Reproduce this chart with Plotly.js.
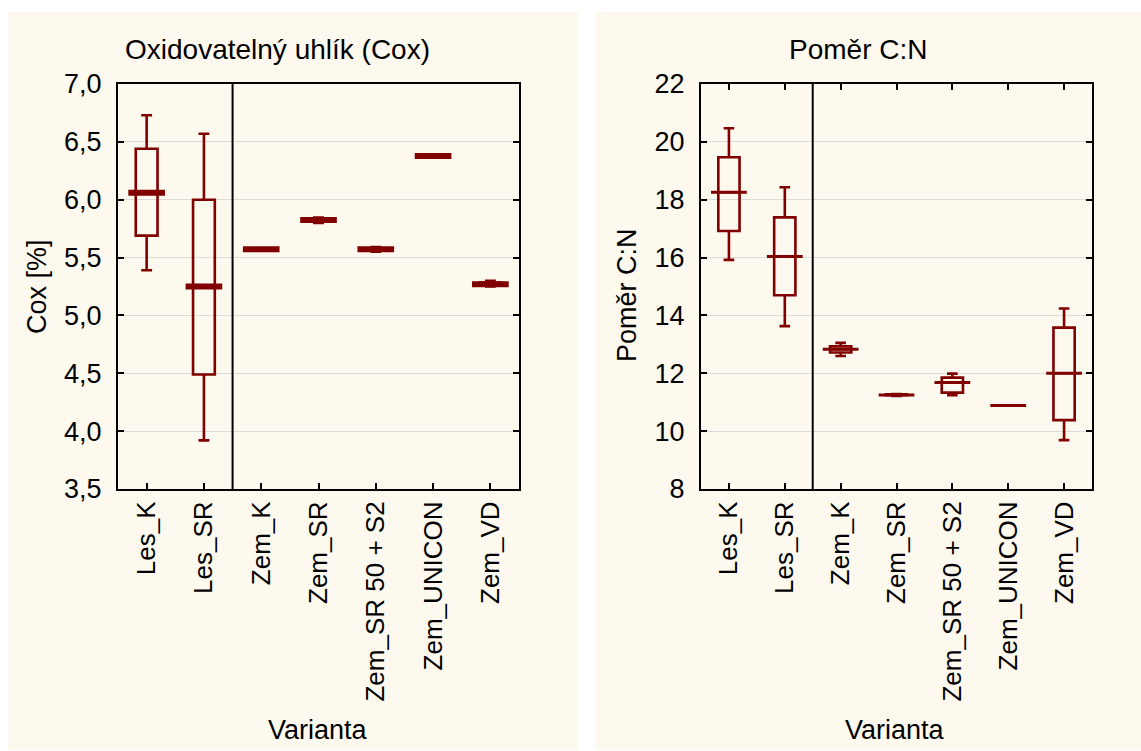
<!DOCTYPE html>
<html>
<head>
<meta charset="utf-8">
<script src="https://cdn.plot.ly/plotly-3.0.1.min.js"></script>
<style>html,body{margin:0;padding:0;background:#fff;}#chart{width:1141px;height:751px;}</style>
</head>
<body>
<div id="chart"></div>
<script>
// ---- data ----
var categories = ["Les_K", "Les_SR", "Zem_K", "Zem_SR", "Zem_SR 50 + S2", "Zem_UNICON", "Zem_VD"];

// Oxidovatelný uhlík (Cox) [%]
var coxLower  = [5.39, 3.92, 5.565, 5.80, 5.55, 6.378, 5.25];
var coxQ1     = [5.69, 4.49, 5.568, 5.815, 5.56, 6.378, 5.26];
var coxMedian = [6.06, 5.25, 5.571, 5.825, 5.571, 6.378, 5.27];
var coxQ3     = [6.44, 6.00, 5.574, 5.835, 5.58, 6.378, 5.285];
var coxUpper  = [6.73, 6.57, 5.578, 5.845, 5.59, 6.378, 5.30];

// Poměr C:N
var cnLower  = [15.92, 13.63, 12.60, 11.22, 11.24, 10.89, 9.69];
var cnQ1     = [16.92, 14.70, 12.72, 11.24, 11.33, 10.89, 10.38];
var cnMedian = [18.26, 16.04, 12.83, 11.25, 11.68, 10.89, 12.00];
var cnQ3     = [19.47, 17.39, 12.93, 11.27, 11.85, 10.89, 13.58];
var cnUpper  = [20.47, 18.43, 13.05, 11.28, 11.99, 10.89, 14.24];

var yTicksCox = [3.5, 4.0, 4.5, 5.0, 5.5, 6.0, 6.5, 7.0];
var yTicksCN  = [8, 10, 12, 14, 16, 18, 20, 22];

// ---- style ----
var RED = "#800000";
var FONT = "Liberation Sans, Arial, sans-serif";
var FS = 27;
var W = 1141, H = 751;
function px(x){ return x / W; }
function py(y){ return 1 - y / H; }

function boxTrace(xa, ya, q1, med, q3, lo, hi, lw){
  return {
    type: "box", xaxis: xa, yaxis: ya, x: categories,
    q1: q1, median: med, q3: q3, lowerfence: lo, upperfence: hi,
    boxpoints: false, width: 0.38, whiskerwidth: 0.5,
    line: {color: RED, width: lw}, fillcolor: "rgba(255,255,255,0)",
    hoverinfo: "skip", showlegend: false
  };
}
function medianTrace(xa, ya, med, lw){
  return {
    type: "box", xaxis: xa, yaxis: ya, x: categories,
    q1: med, median: med, q3: med, lowerfence: med, upperfence: med,
    boxpoints: false, width: 0.64, whiskerwidth: 0,
    line: {color: RED, width: lw}, fillcolor: "rgba(255,255,255,0)",
    hoverinfo: "skip", showlegend: false
  };
}

var traces = [
  boxTrace("x", "y", coxQ1, coxMedian, coxQ3, coxLower, coxUpper, 2.6),
  medianTrace("x", "y", coxMedian, 6),
  boxTrace("x2", "y2", cnQ1, cnMedian, cnQ3, cnLower, cnUpper, 2.6),
  medianTrace("x2", "y2", cnMedian, 3)
];

var tickFont = {family: FONT, size: FS, color: "#000"};
var xTickFont = {family: FONT, size: 26, color: "#000"};

function xAxis(domain, anchor, mirrorTicks){
  return {
    domain: domain, anchor: anchor, type: "category",
    range: [-0.5, 6.5], categoryorder: "array", categoryarray: categories,
    showline: true, linecolor: "#000", linewidth: 2, mirror: mirrorTicks ? "allticks" : true,
    ticks: "inside", ticklen: 6, tickwidth: 2, tickcolor: "#000",
    tickangle: -90, tickfont: xTickFont, showgrid: false, zeroline: false,
    fixedrange: true
  };
}
function yAxis(anchor, range, vals, fmt){
  return {
    anchor: anchor, domain: [py(489), py(84)], range: range,
    tickvals: vals, tickformat: fmt,
    showline: true, linecolor: "#000", linewidth: 2, mirror: "allticks",
    ticks: "inside", ticklen: 6, tickwidth: 2, tickcolor: "#000",
    tickfont: tickFont, ticklabelstandoff: 9,
    showgrid: true, gridcolor: "#dcdcdc", gridwidth: 1, zeroline: false,
    fixedrange: true
  };
}

var layout = {
  width: W, height: H,
  margin: {l: 0, r: 0, t: 0, b: 0},
  paper_bgcolor: "#ffffff", plot_bgcolor: "#ffffff",
  separators: ", ",
  boxmode: "overlay",
  showlegend: false,
  font: {family: FONT, size: FS, color: "#000"},
  xaxis: xAxis([px(118), px(519)], "y", false),
  yaxis: yAxis("x", [3.5, 7.0], yTicksCox, ".1f"),
  xaxis2: xAxis([px(701), px(1092)], "y2", true),
  yaxis2: yAxis("x2", [8, 22], yTicksCN, "d"),
  xaxis3: {
    overlaying: "x", anchor: "y", side: "top", range: [0, 7.5],
    tickvals: [1, 2, 3, 4, 5, 6, 7], ticks: "inside", ticklen: 6, tickwidth: 2,
    tickcolor: "#000", showticklabels: false, showline: false, showgrid: false,
    zeroline: false, fixedrange: true
  },
  shapes: [
    {type: "rect", xref: "paper", yref: "paper", x0: px(8), x1: px(578), y0: py(750), y1: py(12),
     fillcolor: "#fdf9ee", line: {width: 0}, layer: "below"},
    {type: "rect", xref: "paper", yref: "paper", x0: px(596), x1: px(1141), y0: py(750), y1: py(12),
     fillcolor: "#fdf9ee", line: {width: 0}, layer: "below"},
    {type: "line", xref: "x", yref: "y domain", x0: 1.5, x1: 1.5, y0: 0, y1: 1,
     line: {color: "#000", width: 2}},
    {type: "line", xref: "x2", yref: "y2 domain", x0: 1.5, x1: 1.5, y0: 0, y1: 1,
     line: {color: "#000", width: 2}}
  ],
  annotations: [
    {text: "Oxidovatelný uhlík (Cox)", xref: "paper", yref: "paper", x: px(277), y: py(50),
     showarrow: false, font: {family: FONT, size: 28}, xanchor: "center", yanchor: "middle"},
    {text: "Poměr C:N", xref: "paper", yref: "paper", x: px(858), y: py(50),
     showarrow: false, font: {family: FONT, size: 28}, xanchor: "center", yanchor: "middle"},
    {text: "Cox [%]", xref: "paper", yref: "paper", x: px(37), y: py(287), textangle: -90,
     showarrow: false, font: {family: FONT, size: FS}, xanchor: "center", yanchor: "middle"},
    {text: "Poměr C:N", xref: "paper", yref: "paper", x: px(627), y: py(295), textangle: -90,
     showarrow: false, font: {family: FONT, size: FS}, xanchor: "center", yanchor: "middle"},
    {text: "Varianta", xref: "paper", yref: "paper", x: px(318), y: py(730),
     showarrow: false, font: {family: FONT, size: FS}, xanchor: "center", yanchor: "middle"},
    {text: "Varianta", xref: "paper", yref: "paper", x: px(895), y: py(730),
     showarrow: false, font: {family: FONT, size: FS}, xanchor: "center", yanchor: "middle"}
  ]
};

Plotly.newPlot("chart", traces, layout, {staticPlot: true, displayModeBar: false});
</script>
</body>
</html>
